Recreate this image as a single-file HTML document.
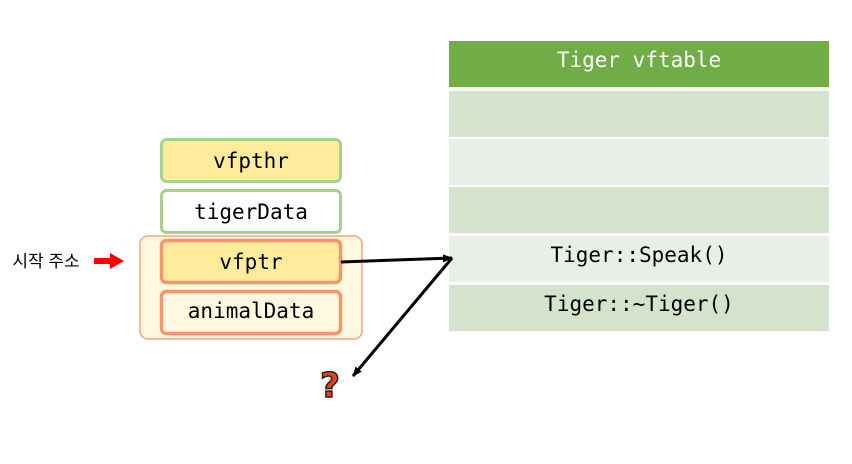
<!DOCTYPE html>
<html><head><meta charset="utf-8"><style>
body{margin:0;background:#fff}
text{font-family:"DejaVu Sans Mono","Liberation Mono",monospace;font-size:21px;text-anchor:middle}
</style></head><body>
<svg width="852" height="459" viewBox="0 0 852 459" xmlns="http://www.w3.org/2000/svg">
<defs><marker id="a" markerWidth="10" markerHeight="8" refX="9" refY="4" orient="auto" markerUnits="userSpaceOnUse"><path d="M0,0 L10,4 L0,8 z" fill="#000"/></marker></defs>
<rect x="449" y="41" width="380" height="46" fill="#70ad47"/>
<text x="639" y="67" fill="#fff">Tiger vftable</text>
<rect x="449" y="91" width="380" height="46" fill="#d6e3cc"/>
<rect x="449" y="139" width="380" height="46" fill="#e9efe6"/>
<rect x="449" y="187" width="380" height="46" fill="#d6e3cc"/>
<rect x="449" y="236" width="380" height="46" fill="#e9efe6"/>
<text x="639" y="262">Tiger::Speak()</text>
<rect x="449" y="285" width="380" height="46" fill="#d6e3cc"/>
<text x="639" y="311">Tiger::~Tiger()</text>
<rect x="140" y="236" width="222" height="103" rx="8" fill="#fff8e1" stroke="#f8a57a" stroke-width="1.5"/>
<rect x="161.5" y="139.5" width="179" height="42" rx="5" fill="#ffeb9c" stroke="#a9d18e" stroke-width="3"/>
<text x="251" y="168">vfpthr</text>
<rect x="161.5" y="190.5" width="179" height="42" rx="5" fill="#fff" stroke="#a9d18e" stroke-width="3"/>
<text x="251" y="219">tigerData</text>
<rect x="161.5" y="240.5" width="179" height="42" rx="5" fill="#ffeb9c" stroke="#f4956a" stroke-width="3.5"/>
<text x="251" y="269">vfptr</text>
<rect x="161.5" y="291.5" width="179" height="42" rx="5" fill="#fff8e0" stroke="#f4956a" stroke-width="3.5"/>
<text x="251" y="318">animalData</text>
<text x="46" y="267" style="font-family:'Liberation Sans','Noto Sans CJK KR',sans-serif;font-size:17px">시작 주소</text>
<path d="M94,258 H110 V253 L124,261 L110,269 V264 H94 z" fill="#f00"/>
<line x1="341" y1="262" x2="452" y2="258" stroke="#000" stroke-width="3" marker-end="url(#a)"/>
<line x1="452" y1="258" x2="353" y2="376" stroke="#000" stroke-width="3" marker-end="url(#a)"/>
<text x="330" y="397" style="font-family:'DejaVu Sans',sans-serif;font-size:34px;font-weight:bold" fill="#e8401c" stroke="#222" stroke-width="1.5">?</text>
</svg>
</body></html>
